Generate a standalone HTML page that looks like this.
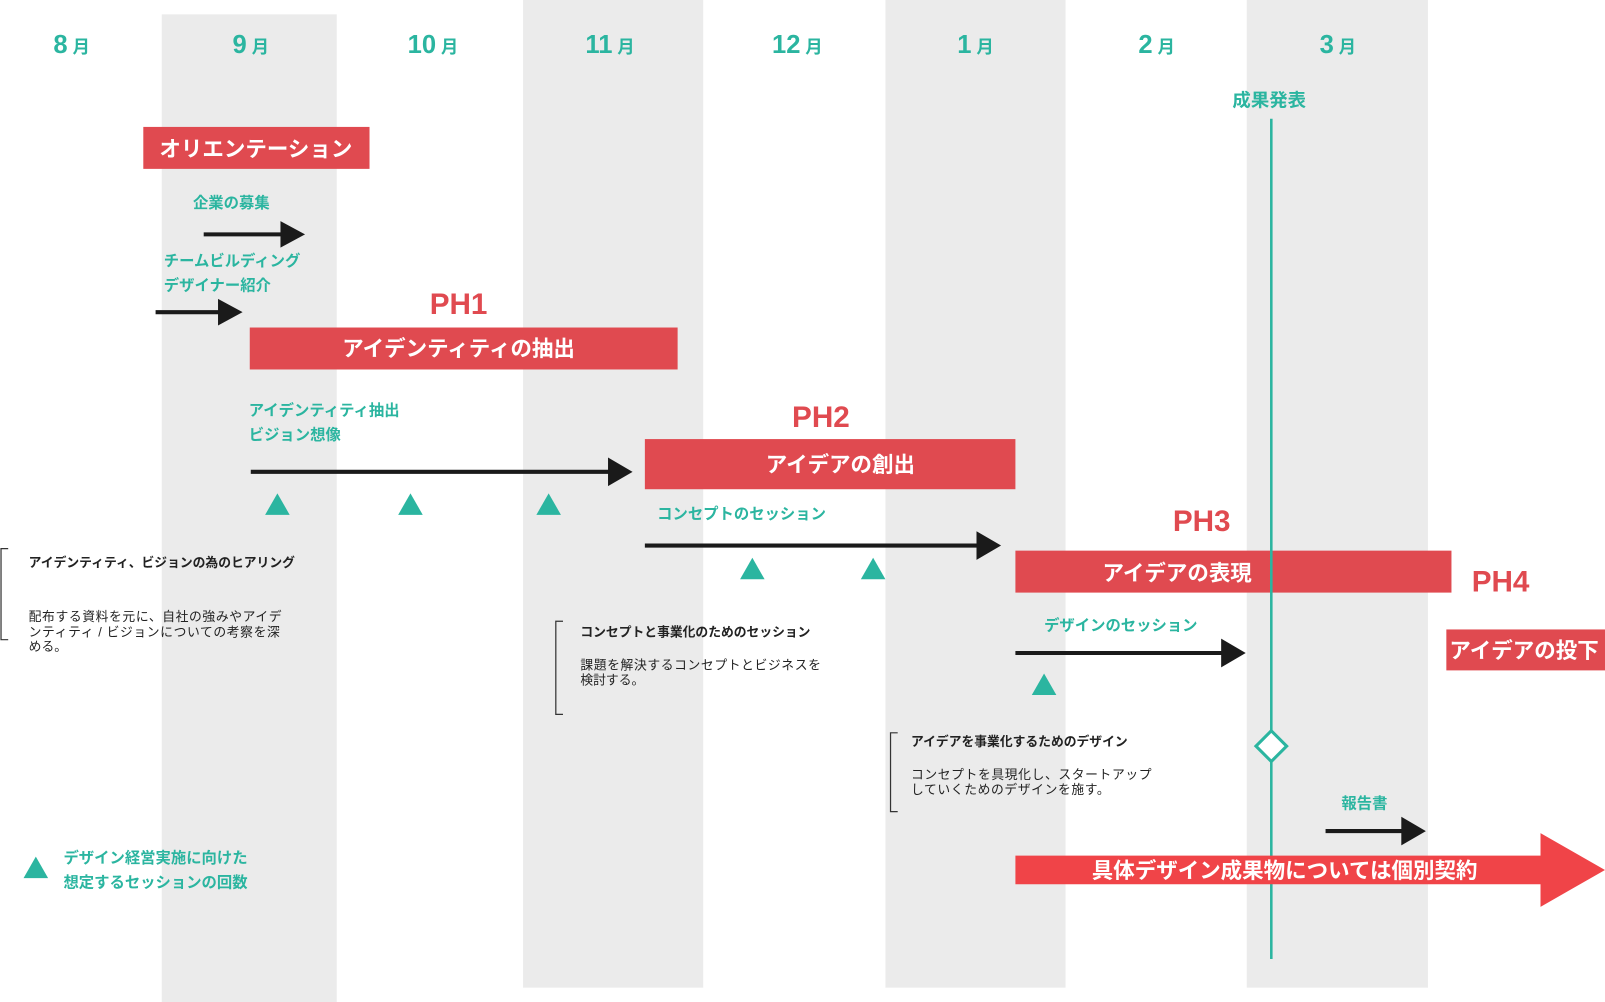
<!DOCTYPE html>
<html><head><meta charset="utf-8"><style>
html,body{margin:0;padding:0;background:#fff;overflow:hidden}
svg{display:block}
text{font-family:"Liberation Sans","Noto Sans CJK JP",sans-serif}
.m{fill:#2bb5a0;font-weight:bold}
.t{fill:#2bb5a0;font-weight:bold;font-size:15px}
.w{fill:#fff;font-weight:bold;font-size:21px}
.ph{fill:#e04a50;font-weight:bold;font-size:29px}
.n{fill:#222;font-size:12.5px}
.nb{fill:#222;font-size:12.5px;font-weight:bold}
</style></head><body>
<svg width="1605" height="1002" viewBox="0 0 1568 979" preserveAspectRatio="none" xmlns="http://www.w3.org/2000/svg">
<g fill="#ebebeb">
<rect x="158" y="14" width="171" height="965"/>
<rect x="511" y="0" width="176" height="965"/>
<rect x="865" y="0" width="176" height="965"/>
<rect x="1218" y="0" width="177" height="965"/>
</g>
<g class="m" font-size="25" text-anchor="middle">
<text x="70" y="52">8<tspan font-size="17"> 月</tspan></text>
<text x="245" y="52">9<tspan font-size="17"> 月</tspan></text>
<text x="423" y="52">10<tspan font-size="17"> 月</tspan></text>
<text x="596" y="52">11<tspan font-size="17"> 月</tspan></text>
<text x="779" y="52">12<tspan font-size="17"> 月</tspan></text>
<text x="953" y="52">1<tspan font-size="17"> 月</tspan></text>
<text x="1130" y="52">2<tspan font-size="17"> 月</tspan></text>
<text x="1307" y="52">3<tspan font-size="17"> 月</tspan></text>
</g>
<g fill="#e04a50">
<rect x="140" y="124" width="221" height="41"/>
<rect x="244" y="320" width="418" height="41"/>
<rect x="630" y="429" width="362" height="49"/>
<rect x="992" y="538" width="426" height="41"/>
<rect x="1413" y="615" width="155" height="40"/>
</g>
<text class="w" x="250" y="153" text-anchor="middle">オリエンテーション</text>
<text class="w" x="448" y="348" text-anchor="middle">アイデンティティの抽出</text>
<text class="w" x="821" y="461" text-anchor="middle">アイデアの創出</text>
<text class="w" x="1150" y="567" text-anchor="middle">アイデアの表現</text>
<text class="w" x="1416" y="643">アイデアの投下</text>
<text class="ph" x="448" y="307" text-anchor="middle">PH1</text>
<text class="ph" x="802" y="417" text-anchor="middle">PH2</text>
<text class="ph" x="1174" y="519" text-anchor="middle">PH3</text>
<text class="ph" x="1466" y="578" text-anchor="middle">PH4</text>
<g stroke="#1a1a1a" stroke-width="4">
<line x1="199" y1="229" x2="276" y2="229"/>
<line x1="152" y1="305" x2="215" y2="305"/>
<line x1="245" y1="461" x2="596" y2="461"/>
<line x1="630" y1="533" x2="956" y2="533"/>
<line x1="992" y1="638" x2="1195" y2="638"/>
<line x1="1295" y1="812" x2="1371" y2="812"/>
</g>
<g fill="#1a1a1a">
<path d="M274 216L298 229L274 242z"/>
<path d="M213 292L237 305L213 318z"/>
<path d="M594 447L618 461L594 475z"/>
<path d="M954 519L978 533L954 547z"/>
<path d="M1193 624L1217 638L1193 652z"/>
<path d="M1369 798L1393 812L1369 826z"/>
</g>
<text class="t" x="226" y="203" text-anchor="middle">企業の募集</text>
<text class="t" x="160" y="260">チームビルディング</text>
<text class="t" x="160" y="284">デザイナー紹介</text>
<text class="t" x="243" y="406">アイデンティティ抽出</text>
<text class="t" x="243" y="430">ビジョン想像</text>
<text class="t" x="642" y="507">コンセプトのセッション</text>
<text class="t" x="1020" y="616">デザインのセッション</text>
<text class="t" x="1240" y="104" text-anchor="middle" style="font-size:18px">成果発表</text>
<text class="t" x="1333" y="790" text-anchor="middle">報告書</text>
<text class="t" x="62" y="843">デザイン経営実施に向けた</text>
<text class="t" x="62" y="867">想定するセッションの回数</text>
<g fill="#2bb5a0">
<path d="M271 482L283 503L259 503z"/><path d="M401 482L413 503L389 503z"/><path d="M536 482L548 503L524 503z"/>
<path d="M735 545L747 566L723 566z"/><path d="M853 545L865 566L841 566z"/>
<path d="M1020 658L1032 679L1008 679z"/><path d="M35 837L47 858L23 858z"/>
</g>
<line x1="1242" y1="116" x2="1242" y2="937" stroke="#2bb5a0" stroke-width="2.5"/>
<path d="M1242 714L1257 729L1242 744L1227 729z" fill="#fff" stroke="#2bb5a0" stroke-width="3"/>
<path d="M992 836H1505V814L1568 850L1505 886V864H992z" fill="#f04448"/>
<text class="w" x="1255" y="858" text-anchor="middle">具体デザイン成果物については個別契約</text>
<g fill="none" stroke="#333" stroke-width="1.2">
<path d="M8 536H1V625H8"/><path d="M550 607H543V698H550"/><path d="M877 716H870V793H877"/>
</g>
<text class="nb" x="28" y="554">アイデンティティ、ビジョンの為のヒアリング</text>
<text class="n" x="28" y="607" letter-spacing="0.6">配布する資料を元に、自社の強みやアイデ</text>
<text class="n" x="28" y="622" letter-spacing="0.6">ンティティ / ビジョンについての考察を深</text>
<text class="n" x="28" y="636">める。</text>
<text class="nb" x="567" y="622">コンセプトと事業化のためのセッション</text>
<text class="n" x="567" y="654" letter-spacing="0.6">課題を解決するコンセプトとビジネスを</text>
<text class="n" x="567" y="669">検討する。</text>
<text class="nb" x="890" y="729">アイデアを事業化するためのデザイン</text>
<text class="n" x="890" y="761" letter-spacing="0.6">コンセプトを具現化し、スタートアップ</text>
<text class="n" x="890" y="776" letter-spacing="0.6">していくためのデザインを施す。</text>
</svg>
</body></html>
